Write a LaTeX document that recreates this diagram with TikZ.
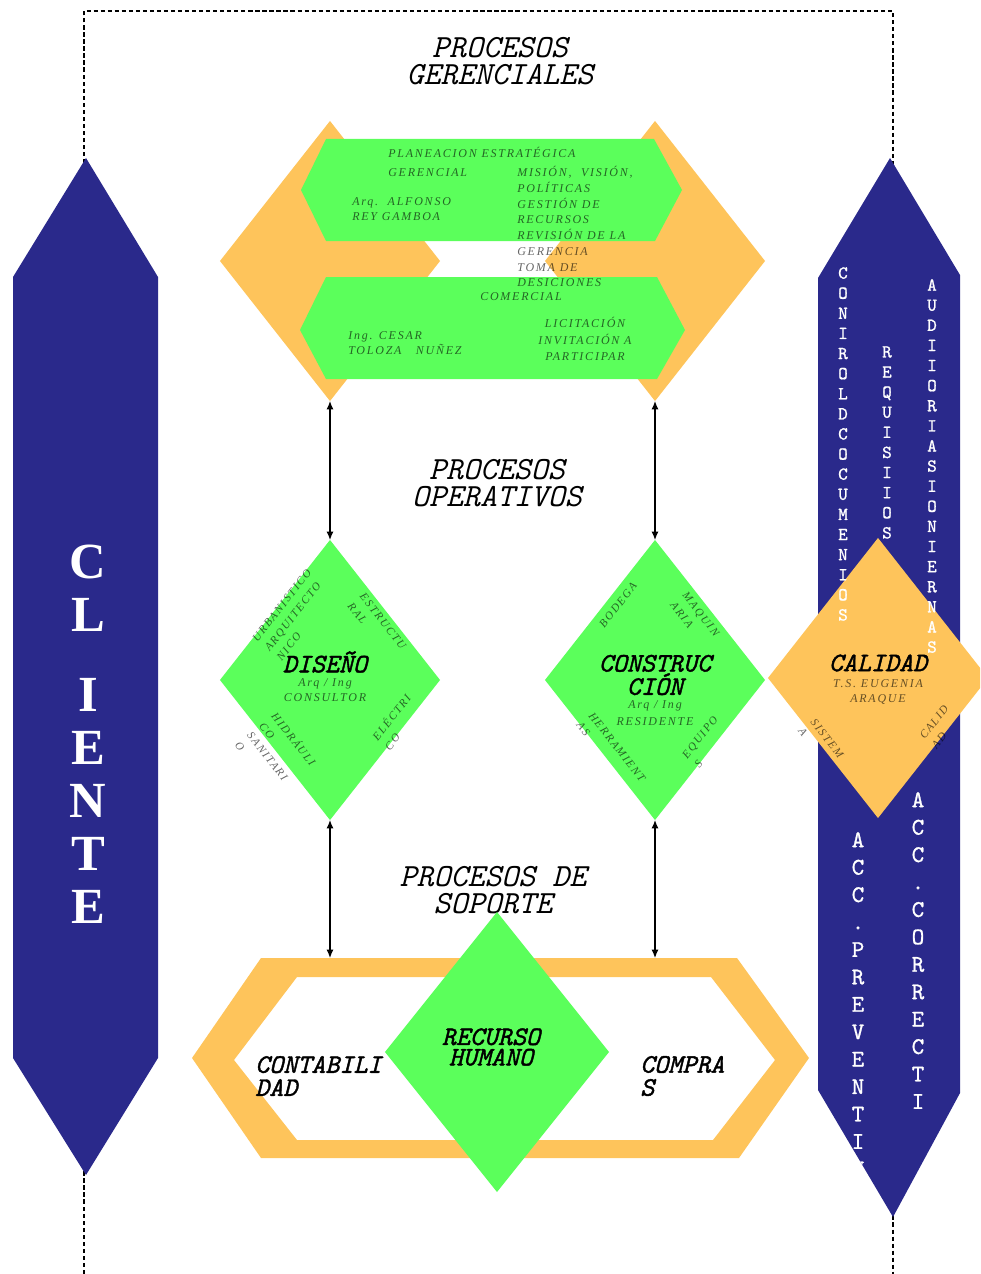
\documentclass[tikz,border=0pt]{standalone}
\usepackage{fontspec}
\setmainfont{Liberation Serif}
\newfontfamily\smallfont{Liberation Serif}[LetterSpace=15]
\newfontfamily\ttlfont{lmmono10-italic.otf}
\newfontfamily\lblfont{lmmono10-italic.otf}[FakeBold=1.5]
\newfontfamily\colfont{lmmono10-regular.otf}[FakeBold=1]
\usetikzlibrary{shapes.geometric,arrows.meta}

\definecolor{navy}{RGB}{42,41,139}
\definecolor{amber}{RGB}{254,196,91}
\definecolor{lime}{RGB}{91,255,91}

\begin{document}
\begin{tikzpicture}[x=0.025cm, y=-0.025cm,
  title/.style={font=\ttlfont\fontsize{23}{19.5}\selectfont, align=center, inner sep=0},
  lbl/.style={font=\lblfont\fontsize{19}{14.5}\selectfont, align=center, inner sep=0},
  note/.style={font=\smallfont\itshape\fontsize{8.5}{10.7}\selectfont, text=black, text opacity=0.6, align=left, inner sep=0},
  tilt/.style={note, font=\smallfont\itshape\fontsize{8}{11}\selectfont},
  dmd/.style={diamond, minimum width=5.5cm, minimum height=7cm, inner sep=0, outer sep=0},
  stack/.style={font=\colfont\fontsize{13}{14.3}\selectfont, text=white, align=center, inner sep=0, anchor=north},
  link/.style={thick, {Latex[length=6pt,width=5pt]}-{Latex[length=6pt,width=5pt]}}
]

% Page size
\clip (0,0) rectangle (980,1274);

% Dashed frame
\draw[densely dashed, line width=0.8pt] (84,1274) -- (84,11) -- (893,11) -- (893,1274);

% Client column
\fill[navy] (86,158) -- (158,277) -- (158,1058) -- (86,1175) -- (13,1058) -- (13,277) -- cycle;
\node[font=\bfseries\fontsize{36}{37.7}\selectfont, text=white, align=center, inner sep=0, anchor=north] (cli) at (88,545) {C\\L\\[19pt]I\\E\\N\\T\\E};

% Quality column
\fill[navy] (890,158) -- (960,275) -- (960,1093) -- (893,1217) -- (818,1090) -- (818,278) -- cycle;

% Management processes
\node[title] (tGer) at (500,61) {PROCESOS\\GERENCIALES};
\node[dmd, fill=amber] (gerL) at (330,261) {};
\node[dmd, fill=amber] (gerR) at (655,261) {};
\fill[lime] (326,139) -- (654,139) -- (682,190) -- (655,241) -- (326,241) -- (301,190) -- cycle;
\fill[lime] (326,277) -- (657,277) -- (685,330) -- (657,379) -- (326,379) -- (300,330) -- cycle;

\node[note, anchor=north west, font=\smallfont\itshape\fontsize{8.5}{13.5}\selectfont] (pla) at (388,147) {PLANEACION ESTRATÉGICA\\GERENCIAL};
\node[note, anchor=north west] (arq) at (352,197) {Arq.\ \ ALFONSO\\REY GAMBOA};
\node[note, anchor=north west, font=\smallfont\itshape\fontsize{8.5}{11.2}\selectfont] (mis) at (517,166) {MISIÓN,\ \ VISIÓN,\\POLÍTICAS\\GESTIÓN DE\\RECURSOS\\REVISIÓN DE LA\\GERENCIA\\TOMA DE\\DESICIONES};
\node[note] (com) at (521,297) {COMERCIAL};
\node[note, anchor=north west] (ing) at (348,331) {Ing. CESAR\\TOLOZA\ \ \ NUÑEZ};
\node[note, align=center, font=\smallfont\itshape\fontsize{8.5}{11.7}\selectfont] (lic) at (585,339) {LICITACIÓN\\INVITACIÓN A\\PARTICIPAR};

% Operational processes
\node[title] (tOpe) at (497,483) {PROCESOS\\OPERATIVOS};
\node[dmd, fill=lime] (dis) at (330,680) {};
\node[dmd, fill=lime] (con) at (655,680) {};
\node[dmd, fill=amber] (cal) at (878,678) {};

\node[lbl] (disT) at (325,662) {DISEÑO};
\node[note, align=center] (disP) at (325,690) {Arq / Ing\\CONSULTOR};
\node[tilt, rotate=52] (urb) at (294,615) {URBANISTICO\\ARQUITECTO\\NICO};
\node[tilt, rotate=-52] (est) at (377,626) {ESTRUCTU\\RAL};
\node[tilt, rotate=-52] (hid) at (276,753) {HIDRÁULI\\CO\\SANITARI\\O};
\node[tilt, rotate=52] (ele) at (397,722) {ELÉCTRI\\CO};

\node[lbl] (conT) at (655,675) {CONSTRUC\\CIÓN};
\node[note, align=center, font=\smallfont\itshape\fontsize{8.5}{12}\selectfont] (conP) at (655,713) {Arq / Ing\\RESIDENTE};
\node[tilt, rotate=52] (bod) at (618,605) {BODEGA};
\node[tilt, rotate=-52] (maq) at (695,619) {MAQUIN\\ARIA};
\node[tilt, rotate=-52] (her) at (611,752) {HERRAMIENT\\AS};
\node[tilt, rotate=52] (equ) at (706,742) {EQUIPO\\S};

\node[lbl] (calT) at (878,663) {CALIDAD};
\node[note, align=center] (calP) at (878,692) {T.S. EUGENIA\\ARAQUE};
\node[tilt, rotate=-52] (sis) at (821,743) {SISTEM\\A};
\node[tilt, rotate=52] (cld) at (940,727) {CALID\\AD};

% Column texts
\node[stack] (ctl) at (843,267) {C\\O\\N\\I\\R\\O\\L\\D\\C\\O\\C\\U\\M\\E\\N\\I\\O\\S};
\node[stack] (req) at (887,346) {R\\E\\Q\\U\\I\\S\\I\\I\\O\\S};
\node[stack] (aud) at (932,279) {A\\U\\D\\I\\I\\O\\R\\I\\A\\S\\I\\O\\N\\I\\E\\R\\N\\A\\S};
\begin{scope}
  \clip (890,158) -- (960,275) -- (960,1093) -- (893,1217) -- (818,1090) -- (818,278) -- cycle;
  \node[stack, font=\colfont\fontsize{17}{19.5}\selectfont] (prev) at (858,832) {A\\C\\C\\.\\P\\R\\E\\V\\E\\N\\T\\I\\V};
  \node[stack, font=\colfont\fontsize{17}{19.5}\selectfont] (corr) at (918,792) {A\\C\\C\\.\\C\\O\\R\\R\\E\\C\\T\\I};
\end{scope}

% Support processes
\node[title] (tSop) at (493,890) {PROCESOS DE\\SOPORTE};
\fill[amber, even odd rule] (261,958) -- (737,958) -- (809,1058) -- (739,1158) -- (261,1158) -- (192,1058) -- cycle
  (297,977) -- (711,977) -- (775,1060) -- (713,1140) -- (297,1140) -- (234,1060) -- cycle;
\node[dmd, fill=lime, minimum width=5.6cm] (rec) at (497,1052) {};
\node[lbl] (recT) at (491,1047) {RECURSO\\HUMANO};
\node[lbl, align=left, anchor=west, font=\lblfont\fontsize{19}{16.4}\selectfont] (cont) at (255,1076) {CONTABILI\\DAD};
\node[lbl, align=left, anchor=west, font=\lblfont\fontsize{19}{16.4}\selectfont] (comp) at (640,1076) {COMPRA\\S};

% Connectors
\coordinate (sopL) at (330,958);
\coordinate (sopR) at (655,958);
\draw[link] (gerL.south) -- (dis.north);
\draw[link] (gerR.south) -- (con.north);
\draw[link] (dis.south) -- (sopL);
\draw[link] (con.south) -- (sopR);

\end{tikzpicture}
\end{document}
